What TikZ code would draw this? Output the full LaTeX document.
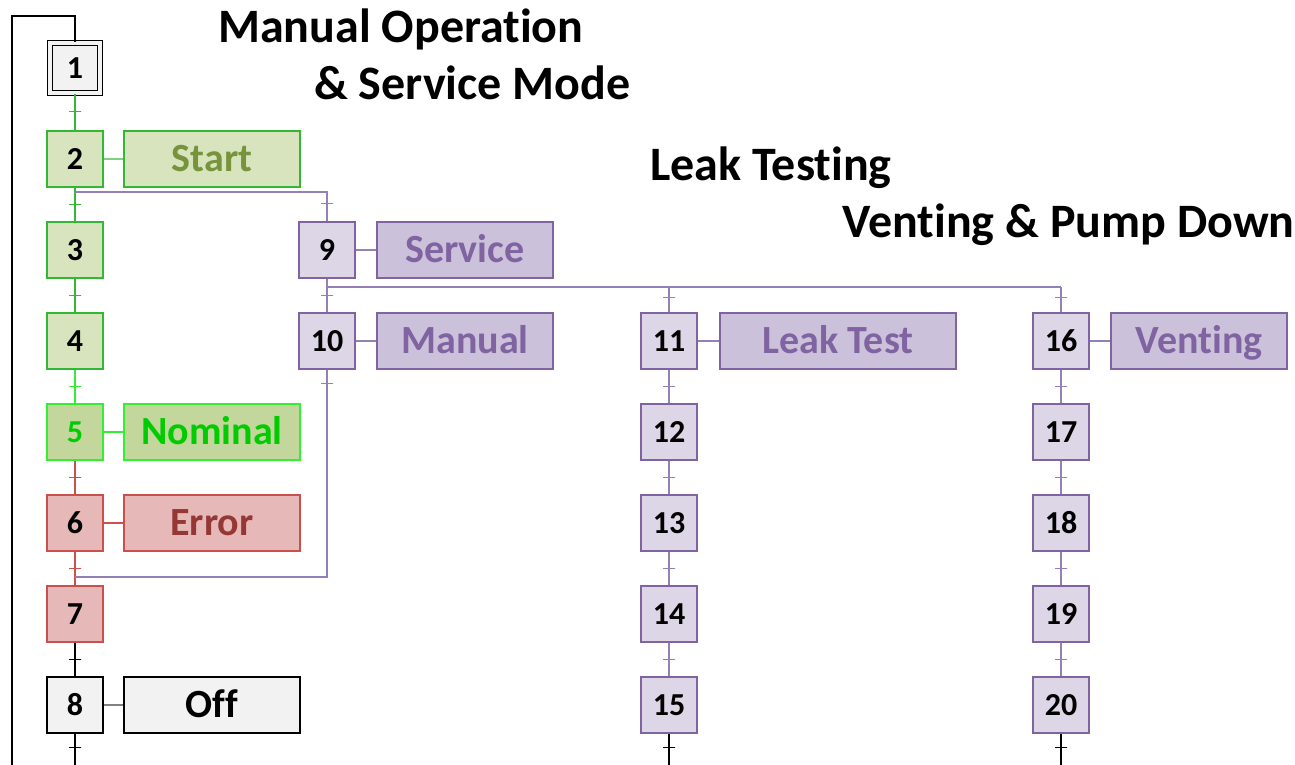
\documentclass[tikz,border=0pt]{standalone}
\usepackage{fontspec}
\setmainfont{Carlito}[Ligatures=NoCommon]

% palette
\definecolor{GreyFill}{HTML}{F2F2F2}
\definecolor{GrnFill}{HTML}{D7E4BD}
\definecolor{GrnDraw}{HTML}{33B833}
\definecolor{GrnLink}{HTML}{7FD07F}
\definecolor{GrnText}{HTML}{77933C}
\definecolor{NomFill}{HTML}{C3D69B}
\definecolor{NomDraw}{HTML}{33EE33}
\definecolor{NomText}{HTML}{00CC00}
\definecolor{RedFill}{HTML}{E6B9B8}
\definecolor{RedDraw}{HTML}{C9504D}
\definecolor{RedText}{HTML}{953735}
\definecolor{PurFill}{HTML}{DDD6E6}
\definecolor{PurLab}{HTML}{CCC1DA}
\definecolor{PurDraw}{HTML}{8064A2}
\definecolor{PurLine}{HTML}{9580B5}

\begin{document}
\begin{tikzpicture}[x=1pt,y=-1pt,
  stepbox/.style={draw, line width=1.2pt, minimum width=56pt, minimum height=56pt,
    inner sep=0pt, text height=20.4pt, text depth=0pt,
    font=\fontsize{32}{34}\selectfont\bfseries},
  labelbox/.style={draw, line width=1.2pt, minimum height=56pt, inner sep=0pt,
    text height=25.6pt, text depth=0pt,
    font=\fontsize{40}{42}\selectfont\bfseries},
  initstep/.style={stepbox, fill=GreyFill, draw=black, double=GreyFill,
    double distance=3.2pt, line width=1.1pt, minimum width=50pt, minimum height=50pt},
  greystep/.style={stepbox, fill=GreyFill, draw=black},
  grnstep/.style={stepbox, fill=GrnFill, draw=GrnDraw},
  nomstep/.style={stepbox, fill=NomFill, draw=NomDraw, text=NomText},
  redstep/.style={stepbox, fill=RedFill, draw=RedDraw},
  purstep/.style={stepbox, fill=PurFill, draw=PurDraw},
  tk/.style={draw, inner sep=0pt, minimum width=12pt, minimum height=0pt, line width=1pt},
  link/.style={line width=1.1pt},
  title/.style={anchor=base west, inner sep=0pt, font=\fontsize{48}{52}\selectfont\bfseries}
]
\useasboundingbox (0,0) rectangle (1295,765);

% headings
\node[title] (t1) at (218,43) {Manual Operation};
\node[title] (t2) at (314,100) {\& Service Mode};
\node[title] (t3) at (650,180) {Leak Testing};
\node[title] (t4) at (842,237) {Venting \& Pump Down};

% main sequence
\node[initstep] (s1) at (75,68) {1};
\node[grnstep]  (s2) at (75,159) {2};
\node[grnstep]  (s3) at (75,250) {3};
\node[grnstep]  (s4) at (75,341) {4};
\node[nomstep]  (s5) at (75,432) {5};
\node[redstep]  (s6) at (75,523) {6};
\node[redstep]  (s7) at (75,614) {7};
\node[greystep] (s8) at (75,705) {8};

% service branch
\node[purstep] (s9)  at (327,250) {9};
\node[purstep] (s10) at (327,341) {10};

% leak test branch
\node[purstep] (s11) at (669,341) {11};
\node[purstep] (s12) at (669,432) {12};
\node[purstep] (s13) at (669,523) {13};
\node[purstep] (s14) at (669,614) {14};
\node[purstep] (s15) at (669,705) {15};

% venting branch
\node[purstep] (s16) at (1061,341) {16};
\node[purstep] (s17) at (1061,432) {17};
\node[purstep] (s18) at (1061,523) {18};
\node[purstep] (s19) at (1061,614) {19};
\node[purstep] (s20) at (1061,705) {20};

% action labels
\node[labelbox, fill=GrnFill, draw=GrnDraw, text=GrnText, minimum width=176pt] (l2) at (212,159) {Start};
\node[labelbox, fill=NomFill, draw=NomDraw, text=NomText, minimum width=176pt] (l5) at (212,432) {Nominal};
\node[labelbox, fill=RedFill, draw=RedDraw, text=RedText, minimum width=176pt] (l6) at (212,523) {Error};
\node[labelbox, fill=GreyFill, draw=black, minimum width=176pt] (l8) at (212,705) {Off};
\node[labelbox, fill=PurLab, draw=PurDraw, text=PurDraw, minimum width=176pt] (l9) at (465,250) {Service};
\node[labelbox, fill=PurLab, draw=PurDraw, text=PurDraw, minimum width=176pt] (l10) at (465,341) {Manual};
\node[labelbox, fill=PurLab, draw=PurDraw, text=PurDraw, minimum width=236pt] (l11) at (838,341) {Leak Test};
\node[labelbox, fill=PurLab, draw=PurDraw, text=PurDraw, minimum width=176pt] (l16) at (1199,341) {Venting};

% step-to-action links
\draw[link, GrnLink] (s2) -- (l2);
\draw[link, NomDraw] (s5) -- (l5);
\draw[link, RedDraw] (s6) -- (l6);
\draw[link, gray]    (s8) -- (l8);
\draw[link, PurLine] (s9) -- (l9);
\draw[link, PurLine] (s10) -- (l10);
\draw[link, PurLine] (s11) -- (l11);
\draw[link, PurLine] (s16) -- (l16);

% branch and join points
\coordinate (b2) at (75,192);
\coordinate (b9) at (327,287);
\coordinate (j7) at (75,577);
\coordinate (e8) at (75,765);
\coordinate (e15) at (669,765);
\coordinate (e20) at (1061,765);
\coordinate (lb) at (12,765);
\coordinate (lt) at (12,16);

% transitions of the main sequence
\draw[link, GrnDraw, tk/.append style={GrnDraw}] (s1) -- node[tk]{} (s2);
\draw[link, GrnDraw, tk/.append style={GrnDraw}] (s2) -- node[tk]{} (s3);
\draw[link, GrnDraw, tk/.append style={GrnDraw}] (s3) -- node[tk]{} (s4);
\draw[link, NomDraw, tk/.append style={NomDraw}] (s4) -- node[tk]{} (s5);
\draw[link, RedDraw, tk/.append style={RedDraw}] (s5) -- node[tk]{} (s6);
\draw[link, RedDraw, tk/.append style={RedDraw}] (s6) -- node[tk]{} (s7);
\draw[link, black] (s7) -- node[tk]{} (s8);
\draw[link, black] (s8) -- node[tk, pos=0.44]{} (e8);

% loop back to the initial step
\draw[link, black] (lb) -- (lt) -| (s1);

% service branch
\draw[link, PurLine, tk/.append style={PurLine}] (b2) -- (b2 -| s9) -- node[tk, pos=0.4]{} (s9);
\draw[link, PurLine, tk/.append style={PurLine}] (s9) -- node[tk]{} (s10);
\draw[link, PurLine, tk/.append style={PurLine}] (s10) -- node[tk, pos=0.067]{} (s10 |- j7) -- (j7);

% leak test and venting branches
\draw[link, PurLine] (b9) -- (b9 -| s16);
\draw[link, PurLine, tk/.append style={PurLine}] (b9 -| s11) -- node[tk, pos=0.4]{} (s11);
\draw[link, PurLine, tk/.append style={PurLine}] (b9 -| s16) -- node[tk, pos=0.4]{} (s16);
\draw[link, PurLine, tk/.append style={PurLine}] (s11) -- node[tk]{} (s12);
\draw[link, PurLine, tk/.append style={PurLine}] (s12) -- node[tk]{} (s13);
\draw[link, PurLine, tk/.append style={PurLine}] (s13) -- node[tk]{} (s14);
\draw[link, PurLine, tk/.append style={PurLine}] (s14) -- node[tk]{} (s15);
\draw[link, black] (s15) -- node[tk, pos=0.44]{} (e15);
\draw[link, PurLine, tk/.append style={PurLine}] (s16) -- node[tk]{} (s17);
\draw[link, PurLine, tk/.append style={PurLine}] (s17) -- node[tk]{} (s18);
\draw[link, PurLine, tk/.append style={PurLine}] (s18) -- node[tk]{} (s19);
\draw[link, PurLine, tk/.append style={PurLine}] (s19) -- node[tk]{} (s20);
\draw[link, black] (s20) -- node[tk, pos=0.44]{} (e20);
\end{tikzpicture}
\end{document}
